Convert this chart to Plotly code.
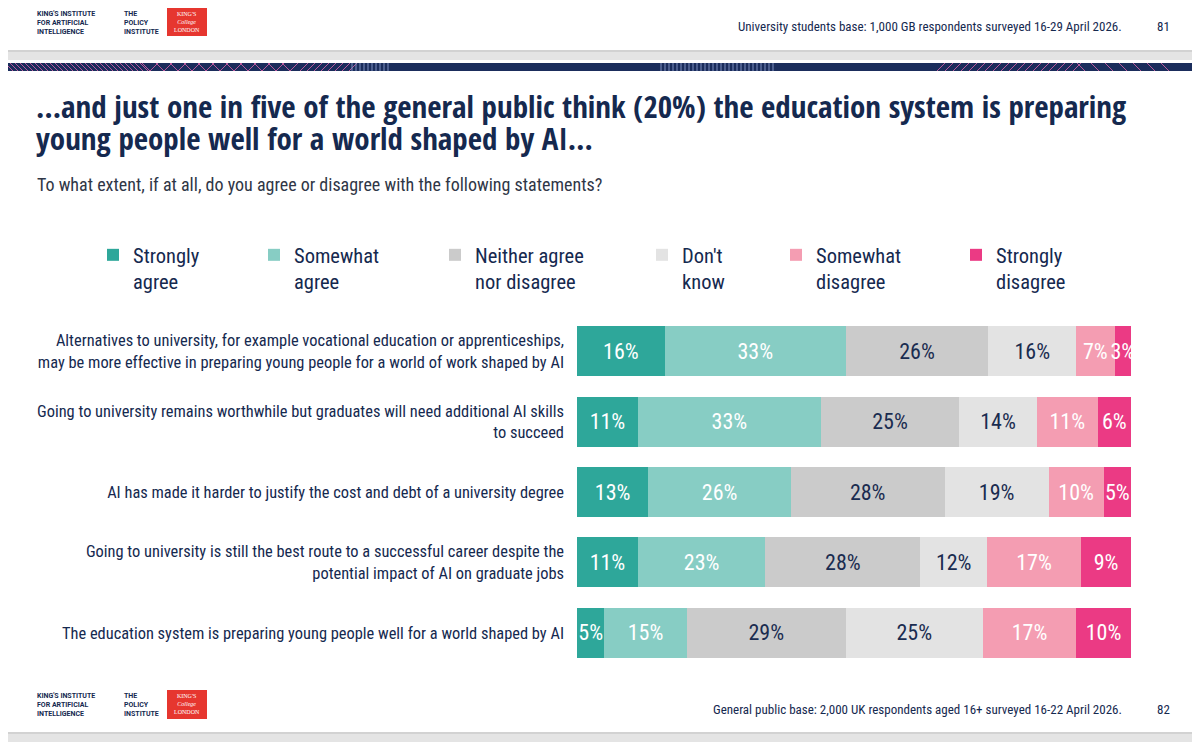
import plotly.graph_objects as go

# statements (rows, top to bottom)
statements = [
    "Alternatives to university, for example vocational education or apprenticeships,<br>may be more effective in preparing young people for a world of work shaped by AI",
    "Going to university remains worthwhile but graduates will need additional AI skills<br>to succeed",
    "AI has made it harder to justify the cost and debt of a university degree",
    "Going to university is still the best route to a successful career despite the<br>potential impact of AI on graduate jobs",
    "The education system is preparing young people well for a world shaped by AI",
]

responses = [
    "Strongly<br>agree",
    "Somewhat<br>agree",
    "Neither agree<br>nor disagree",
    "Don't<br>know",
    "Somewhat<br>disagree",
    "Strongly<br>disagree",
]

strongly_agree = [16, 11, 13, 11, 5]
somewhat_agree = [33, 33, 26, 23, 15]
neither = [26, 25, 28, 28, 29]
dont_know = [16, 14, 19, 12, 25]
somewhat_disagree = [7, 11, 10, 17, 17]
strongly_disagree = [3, 6, 5, 9, 10]

series = [strongly_agree, somewhat_agree, neither, dont_know,
          somewhat_disagree, strongly_disagree]

colors = ["#2ea79a", "#87cdc4", "#cbcbcb", "#e3e3e3", "#f49db2", "#eb3a84"]
text_colors = ["white", "white", "#1a2c50", "#1a2c50", "white", "white"]
legend_widths = [116, 136, 162, 89, 135, 100]

NAVY = "#15294f"
FONT = "Roboto Condensed, DejaVu Sans Condensed, sans-serif"
HEAVY = "Open Sans Condensed, Roboto Condensed, sans-serif"
W, H = 1200, 742
# the page body adds an 8px margin, so the figure is drawn 8px right and down
OFF = 8


def px(x):
    return (x - OFF) / W


def py(y):
    return 1 - (y - OFF) / H


fig = go.Figure()

for name, vals, col, tcol, lw in zip(responses, series, colors, text_colors, legend_widths):
    fig.add_trace(go.Bar(
        y=statements,
        x=vals,
        name=name,
        orientation="h",
        marker=dict(color=col, line=dict(width=0)),
        text=[f"{v}%" for v in vals],
        textposition="inside",
        insidetextanchor="middle",
        textangle=0,
        insidetextfont=dict(color=tcol, size=22, family=FONT),
        cliponaxis=False,
        legendwidth=lw,
        hovertemplate="%{y}<br>" + name.replace("<br>", " ") + ": %{text}<extra></extra>",
    ))

fig.update_layout(
    width=W,
    height=H,
    margin=dict(l=0, r=0, t=0, b=0, autoexpand=False),
    paper_bgcolor="#e4e4e4",
    plot_bgcolor="rgba(0,0,0,0)",
    barmode="stack",
    barnorm="percent",
    bargap=0.29,
    font=dict(family=FONT, color=NAVY),
    uniformtext=dict(minsize=22, mode="show"),
    showlegend=True,
    legend=dict(
        orientation="h",
        x=px(93), xanchor="left",
        y=py(235), yanchor="top",
        bgcolor="rgba(0,0,0,0)",
        font=dict(size=20.5, color=NAVY, family=FONT),
        valign="top",
        traceorder="normal",
    ),
    xaxis=dict(
        domain=[px(577), px(1131)],
        range=[0, 100],
        visible=False,
        fixedrange=True,
        automargin=False,
    ),
    yaxis=dict(
        domain=[py(668), py(316)],
        autorange="reversed",
        showgrid=False,
        showline=False,
        ticks="",
        ticklabelstandoff=12,
        tickfont=dict(size=16.4, color=NAVY, family=FONT),
        fixedrange=True,
        automargin=False,
    ),
)

shapes = [
    # slide shadows
    dict(type="rect", x0=px(6), x1=px(1197), y0=py(-10), y1=py(52), fillcolor="#d2d2d2"),
    dict(type="rect", x0=px(6), x1=px(1197), y0=py(61), y1=py(734), fillcolor="#d2d2d2"),
    # slides
    dict(type="rect", x0=px(5), x1=px(1195), y0=py(-10), y1=py(50), fillcolor="white"),
    dict(type="rect", x0=px(5), x1=px(1195), y0=py(60), y1=py(732), fillcolor="white"),
    # navy band
    dict(type="rect", x0=px(5), x1=px(1195), y0=py(63), y1=py(71), fillcolor="#1b2d5c"),
    # King's College London logo boxes
    dict(type="rect", x0=px(167), x1=px(207), y0=py(7), y1=py(36), fillcolor="#e6362f"),
    dict(type="rect", x0=px(167), x1=px(207), y0=py(690), y1=py(719), fillcolor="#e6362f"),
]
for s in shapes:
    s.update(line=dict(width=0))

# decorative hatching on the navy band
PINK = "#b85a9c"
PALE = "#7f90bf"
band = [
    # (start, stop, step, slant, colour)
    (8, 150, 5, -8, PINK),
    (150, 300, 14, -8, PINK),
    (150, 300, 14, 8, PINK),
    (300, 352, 7, 8, PINK),
    (352, 392, 4, 0, PALE),
    (661, 776, 4, 0, PALE),
    (937, 1078, 8, 8, PINK),
    (1085, 1170, 14, -8, PINK),
]
for x_start, x_stop, step, slant, col in band:
    for x in range(x_start, x_stop, step):
        shapes.append(dict(type="line", x0=px(x), x1=px(x + slant), y0=py(71), y1=py(63),
                           line=dict(color=col, width=1)))

for s in shapes:
    s.update(xref="paper", yref="paper", layer="below")
fig.update_layout(shapes=shapes)

annotations = [
    dict(x=px(34), y=py(106), xanchor="left", yanchor="middle", align="left",
         text="…and just one in five of the general public think (20%) the education system is preparing",
         font=dict(size=31, color=NAVY, family=HEAVY)),
    dict(x=px(34), y=py(138), xanchor="left", yanchor="middle", align="left",
         text="young people well for a world shaped by AI…",
         font=dict(size=31, color=NAVY, family=HEAVY)),
    dict(x=px(35), y=py(184), xanchor="left", yanchor="middle", align="left",
         text="To what extent, if at all, do you agree or disagree with the following statements?",
         font=dict(size=18, color="#2f3646", family=FONT)),
    dict(x=px(1124), y=py(27), xanchor="right", yanchor="middle",
         text="University students base: 1,000 GB respondents surveyed 16-29 April 2026.",
         font=dict(size=13, color=NAVY, family=FONT)),
    dict(x=px(1172), y=py(27), xanchor="right", yanchor="middle",
         text="81", font=dict(size=13, color=NAVY, family=FONT)),
    dict(x=px(1124), y=py(709), xanchor="right", yanchor="middle",
         text="General public base: 2,000 UK respondents aged 16+ surveyed 16-22 April 2026.",
         font=dict(size=13, color=NAVY, family=FONT)),
    dict(x=px(1172), y=py(709), xanchor="right", yanchor="middle",
         text="82", font=dict(size=13, color=NAVY, family=FONT)),
]

for ytop in (8, 690):
    annotations += [
        dict(x=px(35), y=py(ytop + 15), xanchor="left", yanchor="middle", align="left",
             text="<b>KING'S INSTITUTE<br>FOR ARTIFICIAL<br>INTELLIGENCE</b>",
             font=dict(size=7, color=NAVY, family="Roboto, sans-serif")),
        dict(x=px(122), y=py(ytop + 15), xanchor="left", yanchor="middle", align="left",
             text="<b>THE<br>POLICY<br>INSTITUTE</b>",
             font=dict(size=7, color=NAVY, family="Roboto, sans-serif")),
        dict(x=px(187), y=py(ytop + 14), xanchor="center", yanchor="middle", align="center",
             text="KING'S<br><i>College</i><br>LONDON",
             font=dict(size=6, color="white", family="Liberation Serif, serif")),
    ]
for a in annotations:
    a.update(xref="paper", yref="paper", showarrow=False)
fig.update_layout(annotations=annotations)

fig.write_html("out.html")
